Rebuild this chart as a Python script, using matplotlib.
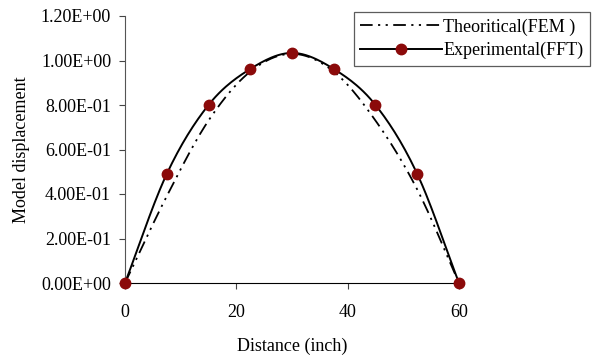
import numpy as np
import matplotlib.pyplot as plt

# mode shape readings along the beam
distance = [0, 7.5, 15, 22.5, 30, 37.5, 45, 52.5, 60]
theoretical_fem = [0, 0.39, 0.73, 0.95, 1.03, 0.95, 0.73, 0.42, 0]
experimental_fft = [0, 0.49, 0.80, 0.962, 1.034, 0.962, 0.80, 0.49, 0]
y_ticks = [0, 0.2, 0.4, 0.6, 0.8, 1.0, 1.2]
x_ticks = [0, 20, 40, 60]


def smooth(x, y, steps=24):
    """Catmull-Rom curve through the points, like a spreadsheet smoothed line."""
    p = np.column_stack([x, y]).astype(float)
    p = np.vstack([2 * p[0] - p[1], p, 2 * p[-1] - p[-2]])
    out = []
    t = np.linspace(0, 1, steps, endpoint=False)[:, None]
    for i in range(1, len(p) - 2):
        p0, p1, p2, p3 = p[i - 1], p[i], p[i + 1], p[i + 2]
        seg = 0.5 * ((2 * p1) + (-p0 + p2) * t
                     + (2 * p0 - 5 * p1 + 4 * p2 - p3) * t ** 2
                     + (-p0 + 3 * p1 - 3 * p2 + p3) * t ** 3)
        out.append(seg)
    out.append(p[-2][None, :])
    out = np.vstack(out)
    return out[:, 0], out[:, 1]


plt.rcParams['font.family'] = 'Liberation Serif'
plt.rcParams['font.size'] = 13

fig = plt.figure(figsize=(6.02, 3.57), dpi=100)
ax = fig.add_axes([125 / 602, 1 - 283 / 357, 334 / 602, 267 / 357])

tx, ty = smooth(distance, theoretical_fem)
ax.plot(tx, ty, color='black', lw=1.3, dashes=(7, 3, 1.2, 3, 1.2, 3),
        label='Theoritical(FEM )')
ex, ey = smooth(distance, experimental_fft)
ax.plot(ex, ey, color='black', lw=1.4)
ax.plot(distance, experimental_fft, 'o', color='#8b0a0a', ms=7.5, zorder=3,
        clip_on=False)
# legend entry combining line and marker
ax.plot([], [], color='black', lw=1.4, marker='o', markerfacecolor='#8b0a0a',
        markeredgecolor='#8b0a0a', ms=7.5, label='Experimental(FFT)')

ax.set_xlim(0, 60)
ax.set_ylim(0, 1.2)
ax.set_xticks(x_ticks)
ax.set_yticks(y_ticks)
ax.set_yticklabels(['%.2E' % v for v in y_ticks])
ax.tick_params(direction='out', length=4, width=0.8, color='#444444')
ax.tick_params(axis='y', pad=6)
ax.tick_params(axis='x', pad=11)
for s in ['top', 'right']:
    ax.spines[s].set_visible(False)
ax.spines['left'].set_color('#555555')
ax.spines['bottom'].set_color('black')

ax.set_xlabel('Distance (inch)', labelpad=12)
ax.set_ylabel('Model displacement', labelpad=8)

leg = ax.legend(loc='upper left', bbox_to_anchor=(354 / 602, 1 - 12 / 357),
                bbox_transform=fig.transFigure, frameon=True, fancybox=False,
                handlelength=4.5, handletextpad=0.1, borderpad=0.35,
                labelspacing=0.35, fontsize=13, borderaxespad=0)
leg.get_frame().set_edgecolor('#333333')
leg.get_frame().set_linewidth(0.9)

fig.savefig('out.png', dpi=100)
